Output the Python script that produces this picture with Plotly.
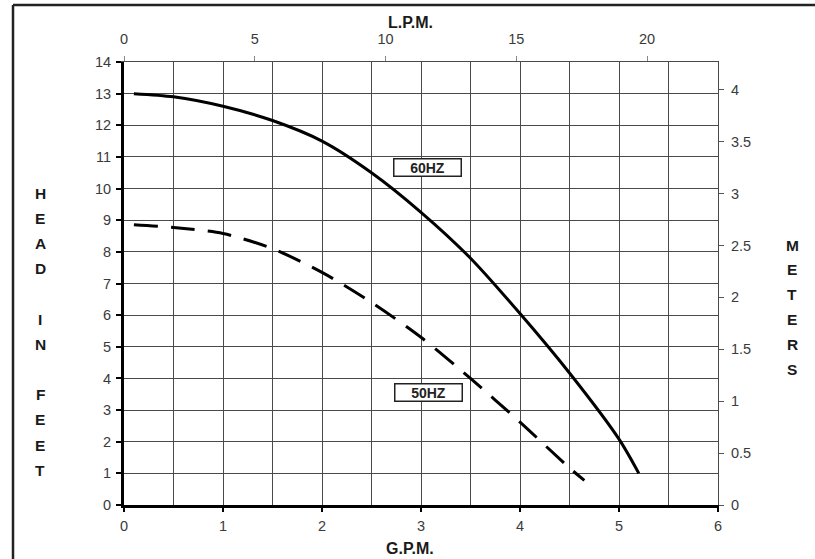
import plotly.graph_objects as go

# Data
gpm_60 = [0.1, 0.5, 1.0, 1.5, 2.0, 2.5, 3.0, 3.5, 4.0, 4.5, 5.0, 5.2]
head_60 = [13.0, 12.9, 12.6, 12.15, 11.5, 10.5, 9.25, 7.8, 6.05, 4.17, 2.08, 1.0]
gpm_50 = [0.1, 0.5, 1.0, 1.5, 2.0, 2.5, 3.0, 3.5, 4.0, 4.5, 4.65]
head_50 = [8.86, 8.77, 8.58, 8.1, 7.35, 6.4, 5.3, 4.0, 2.62, 1.17, 0.78]
label_60 = "60HZ"
label_50 = "50HZ"
x_title = "G.P.M."
x2_title = "L.P.M."
left_title = ["H", "E", "A", "D", "", "I", "N", "", "F", "E", "E", "T"]
right_title = ["M", "E", "T", "E", "R", "S"]

GPM_TO_LPM = 3.785411784
FT_TO_M = 0.3048
X_MAX = 6
Y_MAX = 14

font = "Liberation Sans, Arial, sans-serif"
tick_font = dict(family=font, size=14.5, color="#3a3a3a")
title_font = dict(family=font, size=16, color="#1a1a1a")
letter_font = dict(family=font, size=15.5, color="#1a1a1a")
grid = "#4a4a4a"

fig = go.Figure()
fig.add_trace(go.Scatter(x=gpm_60, y=head_60, mode="lines",
                         line=dict(color="black", width=3, shape="spline", smoothing=0.8),
                         showlegend=False, hoverinfo="skip"))
fig.add_trace(go.Scatter(x=gpm_50, y=head_50, mode="lines",
                         line=dict(color="black", width=3, dash="24px,13px",
                                   shape="spline", smoothing=0.8),
                         showlegend=False, hoverinfo="skip"))
# invisible trace to activate secondary axes (LPM / meters)
fig.add_trace(go.Scatter(x=[g * GPM_TO_LPM for g in gpm_60],
                         y=[h * FT_TO_M for h in head_60],
                         xaxis="x2", yaxis="y2", mode="lines",
                         line=dict(color="rgba(0,0,0,0)", width=0),
                         showlegend=False, hoverinfo="skip"))

W, H = 815, 559
L, R, T, B = 124, 97, 62, 54

fig.update_layout(
    width=W, height=H,
    margin=dict(l=L, r=R, t=T, b=B, autoexpand=False),
    paper_bgcolor="white", plot_bgcolor="white",
    font=dict(family=font),
    xaxis=dict(range=[0, X_MAX], dtick=1, tick0=0, automargin=False,
               showgrid=True, gridcolor=grid, gridwidth=1,
               minor=dict(dtick=0.5, showgrid=True, gridcolor=grid, gridwidth=1),
               showline=True, linecolor="black", linewidth=3,
               ticks="outside", ticklen=4, tickwidth=2, tickcolor="black",
               ticklabelstandoff=2,
               tickfont=tick_font, zeroline=False),
    yaxis=dict(range=[0, Y_MAX], dtick=1, tick0=0, automargin=False,
               showgrid=True, gridcolor=grid, gridwidth=1,
               showline=True, linecolor="black", linewidth=3,
               ticks="outside", ticklen=5, tickwidth=2, tickcolor="black",
               ticklabelstandoff=2,
               tickfont=tick_font, zeroline=False),
    xaxis2=dict(range=[0, X_MAX * GPM_TO_LPM], dtick=5, tick0=0, automargin=False,
                overlaying="x", side="top", anchor="y",
                showgrid=False, showline=True, linecolor=grid, linewidth=1,
                ticks="outside", ticklen=5, tickwidth=1, tickcolor="#888",
                ticklabelstandoff=6,
                tickfont=tick_font, zeroline=False),
    yaxis2=dict(range=[0, Y_MAX * FT_TO_M], dtick=0.5, tick0=0, automargin=False,
                overlaying="y", side="right", anchor="x",
                showgrid=False, showline=True, linecolor=grid, linewidth=1,
                ticks="outside", ticklen=5, tickwidth=1, tickcolor="#555",
                ticklabelstandoff=4,
                tickfont=tick_font, zeroline=False),
)

# curve labels
for txt, xv, yv in [(label_60, 3.066, 10.67), (label_50, 3.08, 3.57)]:
    fig.add_annotation(x=xv, y=yv, xref="x", yref="y", text="<b>" + txt + "</b>",
                       xanchor="center", yanchor="middle",
                       showarrow=False, bgcolor="white", bordercolor="#222",
                       borderwidth=1.5, borderpad=0, width=66, height=16,
                       font=dict(family=font, size=14, color="#222"))

pw, ph = W - L - R, H - T - B


def px_to_paper(xpx, ypx):
    return (xpx - L) / pw, 1 - (ypx - T) / ph


def add_text(txt, xpx, ypx, fnt):
    xp, yp = px_to_paper(xpx, ypx)
    fig.add_annotation(x=xp, y=yp, xref="paper", yref="paper",
                       xanchor="center", yanchor="middle",
                       text="<b>" + txt + "</b>", showarrow=False,
                       borderpad=0, font=fnt)


# axis titles
add_text(x2_title, 410, 22, title_font)
add_text(x_title, 410, 548, title_font)
for i, ch in enumerate(left_title):
    if ch:
        add_text(ch, 40, 193 + i * 25.2, letter_font)
for i, ch in enumerate(right_title):
    add_text(ch, 792, 245 + i * 24.8, letter_font)

# outer frame (left and top edges)
fx0, fy0 = px_to_paper(13, 5)
fig.add_shape(type="line", xref="paper", yref="paper", x0=fx0, x1=fx0,
              y0=fy0, y1=-0.5, line=dict(color="#222", width=2.5))
fig.add_shape(type="line", xref="paper", yref="paper", x0=fx0, x1=1.5,
              y0=fy0, y1=fy0, line=dict(color="#222", width=2.5))

fig.write_html("out.html", config={"displayModeBar": False},
               post_script="document.body.style.margin='0';")
